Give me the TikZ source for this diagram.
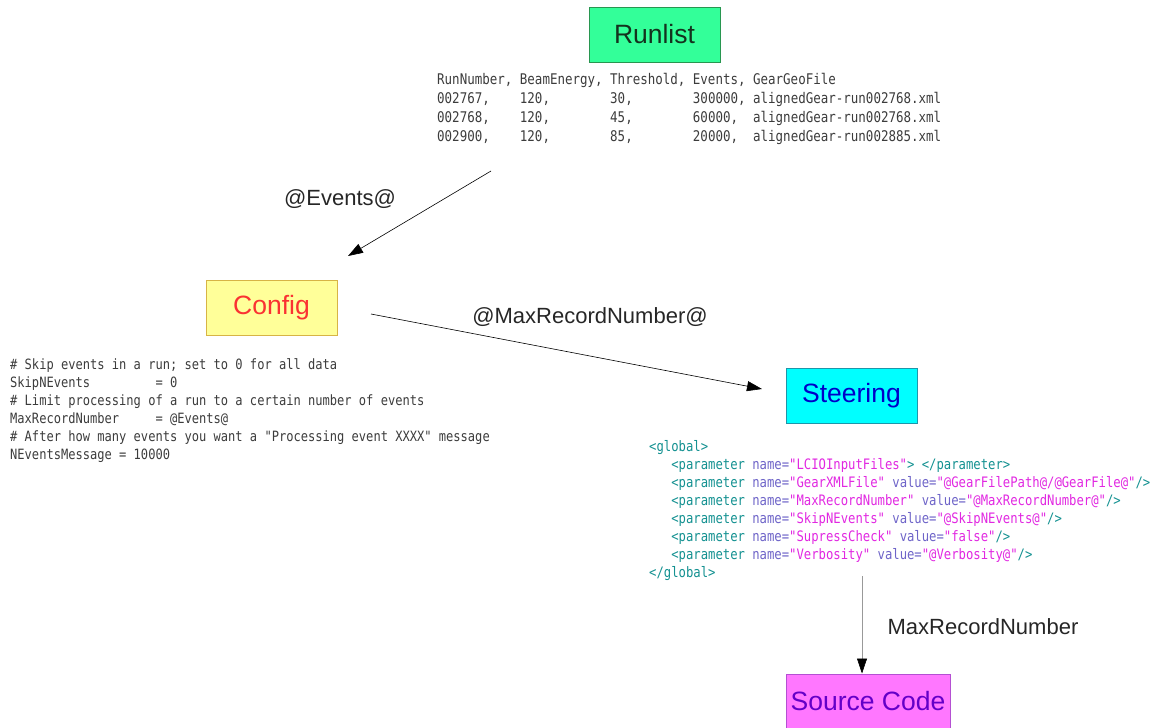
\documentclass[tikz,border=0pt]{standalone}
\usepackage{fontspec}
\setmainfont{Liberation Sans}
\newfontfamily\mono[FakeStretch=0.85]{DejaVu Sans Mono}
\usetikzlibrary{arrows.meta}
\definecolor{rlfill}{RGB}{51,255,153}
\definecolor{rldraw}{RGB}{40,150,80}
\definecolor{rltext}{RGB}{20,50,30}
\definecolor{cffill}{RGB}{255,255,153}
\definecolor{cfdraw}{RGB}{215,180,70}
\definecolor{cftext}{RGB}{250,50,50}
\definecolor{stfill}{RGB}{0,255,255}
\definecolor{stdraw}{RGB}{30,150,170}
\definecolor{sttext}{RGB}{0,0,200}
\definecolor{scfill}{RGB}{255,119,255}
\definecolor{scdraw}{RGB}{180,80,210}
\definecolor{sctext}{RGB}{100,0,200}
\definecolor{codegray}{RGB}{60,60,60}
\definecolor{xtag}{RGB}{20,145,145}
\definecolor{xattr}{RGB}{110,100,200}
\definecolor{xstr}{RGB}{225,40,225}
\newcommand\xt[1]{\textcolor{xtag}{#1}}
\newcommand\xa[1]{\textcolor{xattr}{#1}}
\newcommand\xs[1]{\textcolor{xstr}{#1}}
\tikzset{
  box/.style={draw, line width=1pt, minimum width=131pt, minimum height=55pt, inner sep=0pt,
    font=\fontsize{26.5}{30}\selectfont},
  code/.style={anchor=north west, inner sep=0pt, align=left, text=codegray},
  lbl/.style={font=\fontsize{22}{26}\selectfont, text=black!85},
  conn/.style={line width=0.6pt, -{Triangle[length=15pt,width=10pt]}},
}
\begin{document}
\begin{tikzpicture}[x=1pt,y=-1pt]
\useasboundingbox (0,0) rectangle (1154,728);
% boxes
\node[box, fill=rlfill, draw=rldraw, text=rltext] (runlist) at (654.5,34.5) {Runlist};
\node[box, fill=cffill, draw=cfdraw, text=cftext] (config) at (271.5,307.5) {Config};
\node[box, fill=stfill, draw=stdraw, text=sttext] (steering) at (851.5,395.5) {Steering};
\node[box, fill=scfill, draw=scdraw, text=sctext, minimum width=164pt] (source) at (868,701.5) {Source Code};
% code blocks
\node[code, font={\mono\fontsize{14.7}{19}\selectfont}] (runtab) at (437,73) {%
RunNumber,~BeamEnergy,~Threshold,~Events,~GearGeoFile\\
002767,~~~~120,~~~~~~~~30,~~~~~~~~300000,~alignedGear-run002768.xml\\
002768,~~~~120,~~~~~~~~45,~~~~~~~~60000,~~alignedGear-run002768.xml\\
002900,~~~~120,~~~~~~~~85,~~~~~~~~20000,~~alignedGear-run002885.xml};
\node[code, font={\mono\fontsize{14.2}{18}\selectfont}] (cfgtxt) at (10,358) {%
\#~Skip~events~in~a~run;~set~to~0~for~all~data\\
SkipNEvents~~~~~~~~~=~0\\
\#~Limit~processing~of~a~run~to~a~certain~number~of~events\\
MaxRecordNumber~~~~~=~@Events@\\
\#~After~how~many~events~you~want~a~"Processing~event~XXXX"~message\\
NEventsMessage~=~10000};
\node[code, font={\mono\fontsize{14.4}{18}\selectfont}] (xml) at (649,440) {%
\xt{<global>}\\
~~~\xt{<parameter}~\xa{name=}\xs{"LCIOInputFiles"}\xt{>}~\xt{</parameter>}\\
~~~\xt{<parameter}~\xa{name=}\xs{"GearXMLFile"}~\xa{value=}\xs{"@GearFilePath@/@GearFile@"}\xt{/>}\\
~~~\xt{<parameter}~\xa{name=}\xs{"MaxRecordNumber"}~\xa{value=}\xs{"@MaxRecordNumber@"}\xt{/>}\\
~~~\xt{<parameter}~\xa{name=}\xs{"SkipNEvents"}~\xa{value=}\xs{"@SkipNEvents@"}\xt{/>}\\
~~~\xt{<parameter}~\xa{name=}\xs{"SupressCheck"}~\xa{value=}\xs{"false"}\xt{/>}\\
~~~\xt{<parameter}~\xa{name=}\xs{"Verbosity"}~\xa{value=}\xs{"@Verbosity@"}\xt{/>}\\
\xt{</global>}};
% connector end points
\coordinate (a1s) at (491,171);
\coordinate (a1e) at (348,256);
\coordinate (a2s) at (371,314);
\coordinate (a2e) at (762,389);
\coordinate (a3s) at (862,576);
\draw[conn] (a1s) -- (a1e);
\draw[conn] (a2s) -- (a2e);
\draw[conn, draw=gray!80, -{Triangle[length=15pt,width=10pt,color=black]}] (a3s) -- (source.north -| a3s);
% labels
\node[lbl] (l1) at (340,199) {@Events@};
\node[lbl] (l2) at (590,317) {@MaxRecordNumber@};
\node[lbl] (l3) at (983,627) {MaxRecordNumber};
\end{tikzpicture}
\end{document}
